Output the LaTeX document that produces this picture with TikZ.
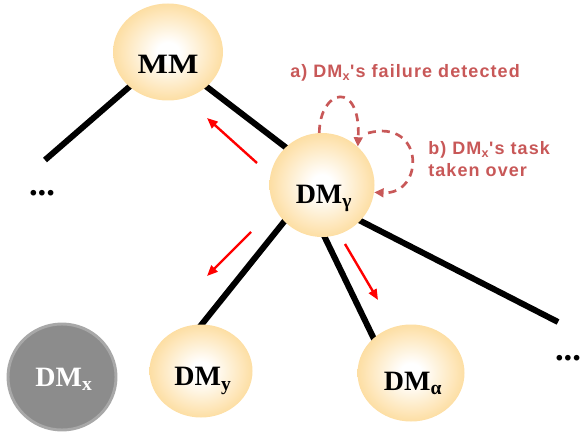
\documentclass[tikz,border=0pt]{standalone}
\usepackage{fontspec}
\setmainfont{Liberation Serif}
\newfontfamily\annfont[LetterSpace=6]{Liberation Sans}
\usetikzlibrary{shapes.geometric,arrows.meta,backgrounds}
\definecolor{ballc}{RGB}{252,201,104}
\definecolor{anncol}{RGB}{200,88,88}
\definecolor{grayfill}{RGB}{140,140,140}
\definecolor{grayrim}{RGB}{168,168,168}
\pgfdeclareradialshading{ballshade}{\pgfpoint{0bp}{0bp}}{color(0bp)=(white); color(5bp)=(white); color(38bp)=(ballc); color(50bp)=(ballc)}
\begin{document}
\begin{tikzpicture}[x=0.75pt,y=-0.75pt,
  ball/.style={ellipse, inner sep=0pt, shading=ballshade},
  deadball/.style={ellipse, inner sep=0pt, fill=grayfill, draw=grayrim, line width=2.2pt},
  lab/.style={inner sep=0pt, font=\fontsize{21}{24}\selectfont\bfseries},
  link/.style={line width=4.5pt, black},
  move/.style={red, line width=1.8pt, -{Triangle[length=8pt,width=6.5pt]}},
  fbloop/.style={anncol, line width=2pt, dash pattern=on 6pt off 4.5pt, -{Triangle[length=7pt,width=6.5pt]}},
  ann/.style={anncol, inner sep=0pt, font=\annfont\bfseries\fontsize{13.5}{16.5}\selectfont, align=left},
  dots/.style={inner sep=0pt, font=\fontsize{26}{28}\selectfont\bfseries}
]
\useasboundingbox (0,0) rectangle (580,434);

% nodes
\node[ball, minimum width=82.5pt, minimum height=72.75pt] (MM) at (168,52) {};
\node[ball, minimum width=78.75pt, minimum height=78pt] (Y) at (322,185) {};
\node[ball, minimum width=77.25pt, minimum height=69.75pt] (y) at (201,371) {};
\node[ball, minimum width=80.25pt, minimum height=72.75pt] (al) at (411,373) {};
\node[deadball, minimum width=81pt, minimum height=79.5pt] (x) at (62,377) {};

\node[lab] (MMt) at (168,64) {\scalebox{1.15}[1]{MM}};
\node[lab] (Yt) at (324,198) {DM\textsubscript{γ}};
\node[lab] (yt) at (203,381) {DM\textsubscript{y}};
\node[lab] (alt) at (413,383) {DM\textsubscript{α}};
\node[lab, text=white] (xt) at (64,379) {DM\textsubscript{x}};

% free ends
\coordinate (c1) at (45,160);
\coordinate (c2) at (558,322);

\begin{scope}[on background layer]
  \draw[link, shorten <=-4pt] (MM.222) -- (c1);
  \draw[link, shorten <=-4pt, shorten >=-4pt] (MM.318) -- (Y.134);
  \draw[link, shorten <=-4pt, shorten >=-4pt] (Y.224) -- (y.89);
  \draw[link, shorten <=-4pt, shorten >=-4pt] (Y.273) -- (al.137);
  \draw[link, shorten <=-4pt] (Y.317) -- (c2);
\end{scope}

\node[dots] (d1) at (42,193) {...};
\node[dots] (d2) at (568,358) {...};

% red movement arrows
\coordinate (r1s) at (257,163); \coordinate (r1e) at (207,118);
\coordinate (r2s) at (251,232); \coordinate (r2e) at (207,276);
\coordinate (r3s) at (345,244); \coordinate (r3e) at (378,300);
\draw[move] (r1s) -- (r1e);
\draw[move] (r2s) -- (r2e);
\draw[move] (r3s) -- (r3e);

% failure detection loops
\coordinate (bst) at (368,133);
\draw[fbloop] (Y.93) .. controls (320,88) and (361,80) .. (Y.47);
\draw[fbloop] (bst) .. controls (425,118) and (425,195) .. (Y.-8);

\node[ann, anchor=west] (ta) at (290,73) {a) DM\textsubscript{x}'s failure detected};
\node[ann, anchor=west] (tb) at (428,159) {b) DM\textsubscript{x}'s task\\taken over};
\end{tikzpicture}
\end{document}
